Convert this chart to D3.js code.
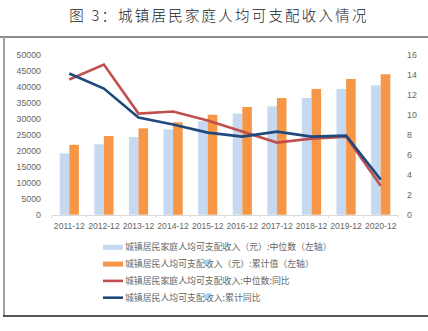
<!DOCTYPE html>
<html lang="zh">
<head>
<meta charset="utf-8">
<title>城镇居民家庭人均可支配收入情况</title>
<script src="https://d3js.org/d3.v7.min.js"></script>
<style>
  body { margin: 0; background: #fff; }
  svg { display: block; }
  .tick text { font-family: "Liberation Sans", Arial, sans-serif; font-size: 8.6px; fill: #666; }
</style>
</head>
<body>
<div id="chart"></div>
<script>
var years = ["2011-12","2012-12","2013-12","2014-12","2015-12","2016-12","2017-12","2018-12","2019-12","2020-12"];
var medianIncome = [19118, 21986, 24200, 26635, 29129, 31554, 33834, 36413, 39244, 40378];
var totalIncome  = [21810, 24565, 26955, 28844, 31195, 33616, 36396, 39251, 42359, 43834];
var medianYoy = [13.5, 15.0, 10.1, 10.3, 9.4, 8.3, 7.2, 7.6, 7.8, 2.9];
var totalYoy  = [14.1, 12.6, 9.7, 9.0, 8.2, 7.8, 8.3, 7.8, 7.9, 3.5];
var leftTicks = [0,5000,10000,15000,20000,25000,30000,35000,40000,45000,50000];
var rightTicks = [0,2,4,6,8,10,12,14,16];
var legendNames = [
  "城镇居民家庭人均可支配收入（元）:中位数（左轴）",
  "城镇居民人均可支配收入（元）:累计值（左轴）",
  "城镇居民家庭人均可支配收入:中位数:同比",
  "城镇居民人均可支配收入:累计同比"
];

var width = 428, height = 331;
var colors = { median: "#c6d9f1", total: "#f79646", medYoy: "#c0504d", totYoy: "#1f497d" };

var svg = d3.select("#chart").append("svg")
  .attr("width", width).attr("height", height);

// title and frame lines
svg.append("text")
  .attr("x", 219).attr("y", 21)
  .attr("text-anchor", "middle")
  .style("font-family", "'Noto Sans CJK SC', sans-serif")
  .style("font-size", "14.5px")
  .style("font-weight", 300)
  .style("letter-spacing", "2.2px")
  .style("fill", "#222")
  .text("图 3：城镇居民家庭人均可支配收入情况");

svg.append("line").attr("x1", 0).attr("x2", width).attr("y1", 37).attr("y2", 37)
  .attr("stroke", "#8c8c8c").attr("stroke-width", 2);
svg.append("line").attr("x1", 4).attr("x2", 4).attr("y1", 37).attr("y2", 316)
  .attr("stroke", "#a0a0a0").attr("stroke-width", 2);
svg.append("line").attr("x1", 3).attr("x2", width).attr("y1", 316).attr("y2", 316)
  .attr("stroke", "#222").attr("stroke-width", 1.5);

// scales
var x = d3.scaleBand().domain(years).range([52, 398]);
var yL = d3.scaleLinear().domain([0, 50000]).range([214.7, 54.5]);
var yR = d3.scaleLinear().domain([0, 16]).range([214.7, 54.5]);
var barW = 9.6;

// axes
var gL = svg.append("g").attr("transform", "translate(44,0)")
  .call(d3.axisLeft(yL).tickValues(leftTicks).tickFormat(d3.format("d")).tickSize(0).tickPadding(3));
gL.select(".domain").remove();
gL.selectAll(".tick text").style("font-size", "8.8px");

var gR = svg.append("g").attr("transform", "translate(404,0)")
  .call(d3.axisRight(yR).tickValues(rightTicks).tickSize(0).tickPadding(3));
gR.select(".domain").remove();
gR.selectAll(".tick text").style("font-size", "8.8px");

var gX = svg.append("g").attr("transform", "translate(0,215)")
  .call(d3.axisBottom(x).tickSize(0).tickPadding(8));
gX.select(".domain").attr("stroke", "#d9d9d9");

// tick marks between categories
svg.append("g").selectAll("line")
  .data(d3.range(years.length + 1))
  .join("line")
  .attr("x1", i => 52 + i * x.bandwidth())
  .attr("x2", i => 52 + i * x.bandwidth())
  .attr("y1", 215).attr("y2", 218)
  .attr("stroke", "#d9d9d9");

// bars
svg.append("g").selectAll("rect")
  .data(medianIncome)
  .join("rect")
  .attr("x", (d, i) => x(years[i]) + x.bandwidth() / 2 - barW)
  .attr("y", d => yL(d))
  .attr("width", barW)
  .attr("height", d => yL(0) - yL(d))
  .attr("fill", colors.median);

svg.append("g").selectAll("rect")
  .data(totalIncome)
  .join("rect")
  .attr("x", (d, i) => x(years[i]) + x.bandwidth() / 2)
  .attr("y", d => yL(d))
  .attr("width", barW)
  .attr("height", d => yL(0) - yL(d))
  .attr("fill", colors.total);

// lines
var line = d3.line()
  .x((d, i) => x(years[i]) + x.bandwidth() / 2)
  .y(d => yR(d));

svg.append("path").datum(medianYoy)
  .attr("d", line).attr("fill", "none")
  .attr("stroke", colors.medYoy).attr("stroke-width", 2.6);

svg.append("path").datum(totalYoy)
  .attr("d", line).attr("fill", "none")
  .attr("stroke", colors.totYoy).attr("stroke-width", 2.6);

// legend
var legendKinds = ["bar", "bar", "line", "line"];
var legendColors = [colors.median, colors.total, colors.medYoy, colors.totYoy];
var leg = svg.append("g").selectAll("g")
  .data(legendNames)
  .join("g")
  .attr("transform", (d, i) => "translate(103," + (247.3 + i * 16.8) + ")");

leg.each(function (d, i) {
  var g = d3.select(this);
  if (legendKinds[i] === "bar") {
    g.append("rect").attr("x", 0).attr("y", -2.5).attr("width", 20).attr("height", 5)
      .attr("fill", legendColors[i]);
  } else {
    g.append("line").attr("x1", 0).attr("x2", 20).attr("y1", 0).attr("y2", 0)
      .attr("stroke", legendColors[i]).attr("stroke-width", 2.6);
  }
  g.append("text")
    .attr("x", 22).attr("y", 0).attr("dy", "0.35em")
    .style("font-family", "'Noto Sans CJK SC', sans-serif")
    .style("font-size", "8.9px")
    .style("fill", "#666")
    .text(d);
});
</script>
</body>
</html>
